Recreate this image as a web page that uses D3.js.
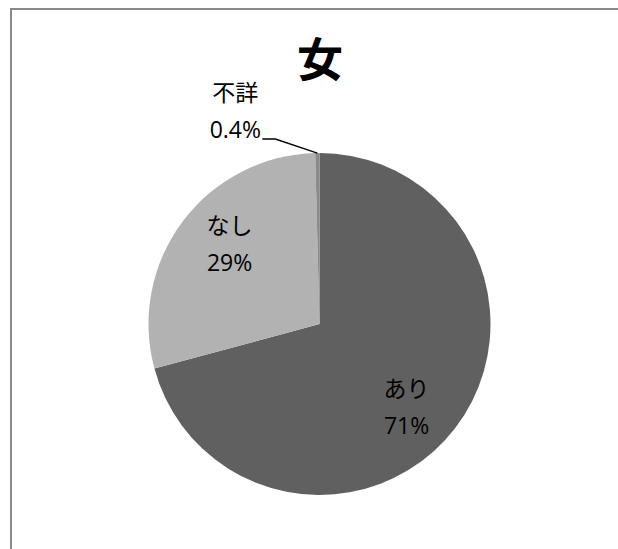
<!DOCTYPE html>
<html><head><meta charset="utf-8">
<script src="https://cdn.jsdelivr.net/npm/d3@7"></script>
<style>html,body{margin:0;padding:0;background:#fff;overflow:hidden;}svg{display:block;overflow:hidden;}</style>
</head><body>
<svg id="chart" width="618" height="549"></svg>
<script>
const title = "女";
const categories = ["あり", "なし", "不詳"];
const values = [70.8, 28.8, 0.4];
const valueLabels = ["71%", "29%", "0.4%"];
const colors = ["#606060", "#b2b2b2", "#8a8a8a"];

const W = 618, H = 549;
const svg = d3.select("#chart");
// chart frame: only top and left edges fall inside the window
svg.append("path").attr("d", `M11,${H + 10} L11,9 L${W + 10},9`)
  .attr("fill", "none").attr("stroke", "#898989").attr("stroke-width", 2);

svg.append("text").attr("x", 320).attr("y", 76).attr("text-anchor", "middle")
  .attr("font-family", "'Noto Sans CJK JP'").attr("font-weight", "bold")
  .attr("font-size", 46).attr("fill", "#000").text(title);

const cx = 319.5, cy = 324, R = 171;
const g = svg.append("g").attr("transform", `translate(${cx},${cy})`);
const data = categories.map((c, i) => ({cat: c, value: values[i], label: valueLabels[i], color: colors[i]}));
const pie = d3.pie().value(d => d.value).sort(null).startAngle(0).endAngle(2 * Math.PI);
const arcs = pie(data);
const arc = d3.arc().innerRadius(0).outerRadius(R);
g.selectAll("path.slice").data(arcs).join("path").attr("class", "slice")
  .attr("d", arc).attr("fill", d => d.data.color);

const labelArc = d3.arc().innerRadius(R * 0.7).outerRadius(R * 0.7);
const kanaFont = "'Noto Sans CJK JP'";
const numFont = "'Open Sans'";
// label placement: inside for big slices, outside with leader for tiny slice
const outsideIdx = 2;
arcs.forEach((a, i) => {
  let x, y;
  if (i === outsideIdx) {
    const mid = (a.startAngle + a.endAngle) / 2;
    const px = Math.sin(mid) * R, py = -Math.cos(mid) * R;
    const ex = px - 42, ey = py - 14;
    g.append("polyline").attr("points", `${px},${py} ${ex},${ey} ${ex - 13},${ey}`)
      .attr("fill", "none").attr("stroke", "#000").attr("stroke-width", 1.3);
    x = ex - 40; y = ey - 28;
  } else {
    const c = labelArc.centroid(a);
    x = c[0]; y = c[1];
    if (i === 0) { x -= 8; y += 10; } else { x += 6; y -= 8; }
  }
  const t = g.append("g").attr("transform", `translate(${x},${y})`);
  t.append("text").attr("y", -10).attr("text-anchor", "middle").attr("font-family", kanaFont)
    .attr("font-size", 23).attr("fill", "#000").text(a.data.cat);
  t.append("text").attr("y", 27).attr("text-anchor", "middle").attr("font-family", numFont)
    .attr("font-size", 23).attr("fill", "#000").text(a.data.label);
});
</script>
</body></html>
